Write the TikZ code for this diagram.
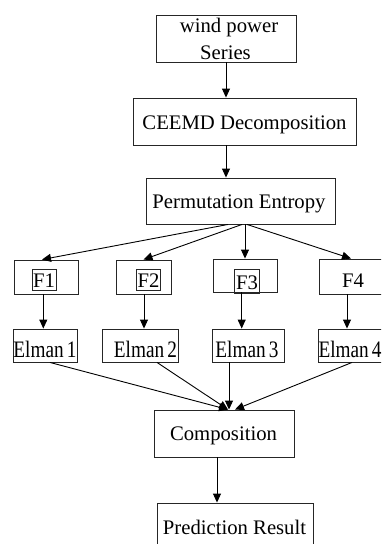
\documentclass[tikz,border=0pt]{standalone}
\usepackage{fontspec}
\setmainfont{Liberation Serif}
\usetikzlibrary{arrows.meta,calc}
\begin{document}
\begin{tikzpicture}[x=1pt,y=-1pt,
  box/.style={draw=black!85,line width=0.9pt,inner sep=0},
  txt/.style={inner sep=0,anchor=base,font=\fontsize{20.7}{25}\selectfont},
  etxt/.style={txt},
  arr/.style={draw=black,line width=0.9pt,-{Triangle[length=9pt,width=8pt]}}]
\useasboundingbox (0,0) rectangle (381,544);
\clip (0,0) rectangle (381,544);
% boxes
\node[box,minimum width=140,minimum height=47] (wp) at (226,38.5) {};
\node[box,minimum width=223,minimum height=47] (ceemd) at (244.5,121.5) {};
\node[box,minimum width=189,minimum height=46] (pe) at (240.5,201) {};
\node[box,minimum width=64,minimum height=34] (f1) at (46,277) {};
\node[box,minimum width=24,minimum height=21] (f1i) at (44.5,279.5) {};
\node[box,minimum width=55,minimum height=34] (f2) at (143.5,277) {};
\node[box,minimum width=24,minimum height=21] (f2i) at (148,279.5) {};
\node[box,minimum width=64,minimum height=33] (f3) at (245,275.5) {};
\node[box,minimum width=25,minimum height=24] (f3i) at (246.5,281) {};
\node[box,minimum width=72,minimum height=35] (f4) at (355,276.5) {};
\node[box,minimum width=64,minimum height=33] (e1) at (45,345.5) {};
\node[box,minimum width=76,minimum height=33] (e2) at (140,345.5) {};
\node[box,minimum width=72,minimum height=33] (e3) at (248,345.5) {};
\node[box,minimum width=77,minimum height=33] (e4) at (356.5,345.5) {};
\node[box,minimum width=140,minimum height=47] (comp) at (224,433.5) {};
\node[box,minimum width=156,minimum height=57] (pred) at (235,531.5) {};
% texts
\node[txt] (wpt1) at (229,32) {wind power};
\node[txt] (wpt2) at (225.5,59) {Series};
\node[txt] (ceemdt) at (244.5,129) {CEEMD Decomposition};
\node[txt] (pet) at (239,208) {Permutation Entropy};
\node[txt] (f1t) at (44,287.5) {F1};
\node[txt] (f2t) at (148.5,287.5) {F2};
\node[txt] (f3t) at (247,289) {F3};
\node[txt] (f4t) at (353,287.5) {F4};
\node[etxt] (e1t) at (45,357) {\scalebox{0.93}[1.14]{Elman\,1}};
\node[etxt] (e2t) at (145.5,357) {\scalebox{0.93}[1.14]{Elman\,2}};
\node[etxt] (e3t) at (247,357) {\scalebox{0.93}[1.14]{Elman\,3}};
\node[etxt,anchor=base west] (e4t) at (318.3,357) {\scalebox{0.93}[1.14]{Elman\,4}};
\node[txt] (compt) at (223.5,440) {Composition};
\node[txt] (predt) at (234.5,534) {Prediction Result};
% arrows
\draw[arr] (wp.south) -- (wp.south |- ceemd.north);
\draw[arr] (wp.south |- ceemd.south) -- (wp.south |- pe.north);
\draw[arr] ([xshift=-12.5pt]pe.south) -- ([xshift=-4pt]f1.north);
\draw[arr] ([xshift=1.5pt]pe.south) -- (f2.north);
\draw[arr] ([xshift=4.5pt]pe.south) -- ([xshift=4.5pt]pe.south |- f3.north);
\draw[arr] ([xshift=6.5pt]pe.south) -- ([xshift=-4pt]f4.north);
\draw[arr] ([xshift=-2.7pt]f1.south) -- ([xshift=-2.7pt]f1.south |- e1.north);
\draw[arr] ([xshift=0.5pt]f2.south) -- ([xshift=0.5pt]f2.south |- e2.north);
\draw[arr] ([xshift=-3.3pt]f3.south) -- ([xshift=-3.3pt]f3.south |- e3.north);
\draw[arr] ([xshift=-8pt]f4.south) -- ([xshift=-8pt]f4.south |- e4.north);
\draw[arr] ([xshift=5pt]e1.south) -- ([xshift=4pt]comp.north);
\draw[arr] ([xshift=17pt]e2.south) -- ([xshift=4pt]comp.north);
\draw[arr] ([xshift=-19pt]e3.south) -- ([xshift=-19pt]e3.south |- comp.north);
\draw[arr] ([xshift=-4.5pt]e4.south) -- ([xshift=11pt]comp.north);
\draw[arr] ([xshift=-7pt]comp.south) -- ([xshift=-7pt]comp.south |- pred.north);
\end{tikzpicture}
\end{document}
